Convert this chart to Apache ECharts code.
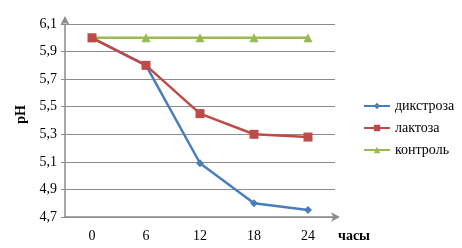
<!DOCTYPE html>
<html><head><meta charset="utf-8">
<script src="https://cdn.jsdelivr.net/npm/echarts@6/dist/echarts.min.js"></script>
<style>html,body{margin:0;padding:0;background:#fff}#c{width:462px;height:248px}</style>
</head><body><div id="c"></div>
<script>
var categories = ['0', '6', '12', '18', '24'];
var dikstroza = [6.0, 5.8, 5.09, 4.8, 4.75];
var laktoza = [6.0, 5.8, 5.45, 5.3, 5.28];
var kontrol = [6.0, 6.0, 6.0, 6.0, 6.0];
var seriesNames = ['дикстроза', 'лактоза', 'контроль'];
var font = '"Liberation Serif", "DejaVu Serif", serif';
var chart = echarts.init(document.getElementById('c'));
chart.setOption({
  animation: false,
  backgroundColor: '#fff',
  grid: {left: 65, right: 127, top: 24, bottom: 31},
  legend: {
    orient: 'vertical', left: 358, top: 94, itemGap: 8, itemWidth: 26, itemHeight: 8,
    textStyle: {fontFamily: font, fontSize: 14, color: '#000'},
    data: seriesNames
  },
  xAxis: {
    type: 'category', data: categories, boundaryGap: true,
    name: 'часы', nameLocation: 'end', nameGap: 3,
    nameTextStyle: {fontFamily: font, fontSize: 14, fontWeight: 'bold', color: '#000', verticalAlign: 'top', padding: [12, 0, 0, 0]},
    axisLine: {lineStyle: {color: '#8c8c8c', width: 1.5}, symbol: ['none', 'arrow'], symbolSize: [7, 9], symbolOffset: [0, 5]},
    axisTick: {show: false},
    axisLabel: {fontFamily: font, fontSize: 14, color: '#000', margin: 12}
  },
  yAxis: {
    type: 'value', min: 4.7, max: 6.1, interval: 0.2,
    name: 'pH', nameLocation: 'middle', nameGap: 35, nameRotate: 90,
    nameTextStyle: {fontFamily: font, fontSize: 14, fontWeight: 'bold', color: '#000', padding: [0, 0, 0, 12]},
    axisLine: {show: true, lineStyle: {color: '#8c8c8c', width: 1.5}, symbol: ['none', 'arrow'], symbolSize: [7, 9], symbolOffset: [0, 8]},
    axisTick: {show: true, inside: false, length: 4, lineStyle: {color: '#8c8c8c'}},
    axisLabel: {fontFamily: font, fontSize: 14, color: '#000', margin: 8,
      formatter: function (v) { return v.toFixed(1).replace('.', ','); }},
    splitLine: {lineStyle: {color: '#8c8c8c', width: 1}}
  },
  series: [
    {name: seriesNames[0], type: 'line', data: dikstroza, symbol: 'diamond', symbolSize: 8,
     itemStyle: {color: '#4A7EBB'}, lineStyle: {width: 2.5, color: '#4A7EBB'}, z: 3},
    {name: seriesNames[1], type: 'line', data: laktoza, symbol: 'rect', symbolSize: 9,
     itemStyle: {color: '#BE4B48'}, lineStyle: {width: 2.5, color: '#BE4B48'}, z: 4},
    {name: seriesNames[2], type: 'line', data: kontrol, symbol: 'triangle', symbolSize: 9,
     itemStyle: {color: '#98B954'}, lineStyle: {width: 2.5, color: '#98B954'}, z: 2}
  ]
});
</script></body></html>
